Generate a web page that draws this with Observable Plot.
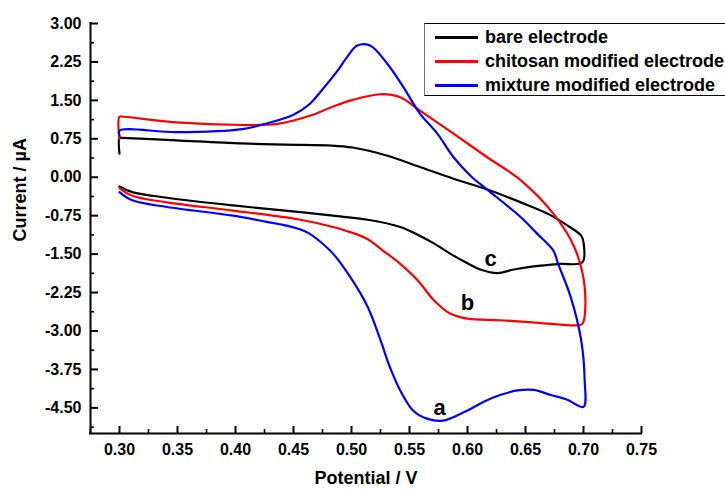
<!DOCTYPE html>
<html><head><meta charset="utf-8">
<script src="https://cdn.jsdelivr.net/npm/d3@7"></script>
<script src="https://cdn.jsdelivr.net/npm/@observablehq/plot@0.6"></script>
<style>
html,body{margin:0;padding:0;background:#fff;overflow:hidden;}
#wrap{position:relative;width:725px;height:491px;overflow:hidden;font-family:"Liberation Sans",Arial,sans-serif;}
#legend{position:absolute;left:424px;top:23px;width:330px;height:73px;border:1px solid #000;border-left-color:#777;background:#fff;box-sizing:border-box;}
.row{position:absolute;left:0;height:24px;display:flex;align-items:center;font-weight:bold;font-size:18px;white-space:nowrap;color:#000;}
.sw{display:inline-block;width:43px;height:3px;margin-left:10px;margin-right:7px;}
</style></head>
<body><div id="wrap"></div>
<script>
// ---- data (potential in V, current in µA) ----
const seriesNames = ["bare electrode", "chitosan modified electrode", "mixture modified electrode"];
const seriesColors = ["#000000", "#ff0000", "#0000ff"];

const bareV = [0.300,0.300,0.302,0.349,0.406,0.456,0.482,0.501,0.531,0.559,0.588,0.617,0.646,0.669,0.686,0.698,0.700,0.699,0.680,0.657,0.640,0.626,0.611,0.600,0.585,0.571,0.557,0.542,0.514,0.484,0.456,0.398,0.341,0.311,0.300];
const bareI = [0.46,0.77,0.77,0.72,0.66,0.63,0.62,0.58,0.42,0.20,-0.03,-0.24,-0.49,-0.71,-0.94,-1.14,-1.27,-1.66,-1.69,-1.74,-1.80,-1.87,-1.80,-1.68,-1.49,-1.29,-1.12,-0.97,-0.83,-0.75,-0.68,-0.55,-0.40,-0.29,-0.18];

const chitosanV = [0.300,0.300,0.304,0.349,0.406,0.436,0.464,0.482,0.501,0.525,0.542,0.559,0.588,0.617,0.646,0.674,0.692,0.701,0.699,0.694,0.656,0.628,0.600,0.585,0.571,0.557,0.542,0.527,0.514,0.499,0.484,0.456,0.398,0.341,0.311,0.300];
const chitosanI = [0.75,1.18,1.18,1.07,1.02,1.04,1.20,1.36,1.51,1.62,1.56,1.30,0.85,0.39,-0.06,-0.71,-1.36,-2.14,-2.86,-2.89,-2.83,-2.79,-2.76,-2.66,-2.40,-2.01,-1.69,-1.43,-1.21,-1.07,-0.97,-0.83,-0.65,-0.49,-0.36,-0.21];

const mixtureV = [0.300,0.300,0.349,0.406,0.427,0.450,0.464,0.473,0.488,0.496,0.505,0.516,0.531,0.545,0.559,0.574,0.588,0.603,0.617,0.646,0.660,0.674,0.678,0.689,0.698,0.701,0.700,0.686,0.672,0.657,0.643,0.628,0.614,0.600,0.579,0.565,0.553,0.542,0.533,0.525,0.514,0.499,0.484,0.470,0.463,0.456,0.441,0.427,0.398,0.341,0.311,0.300];
const mixtureI = [0.81,0.91,0.88,0.94,1.05,1.22,1.43,1.66,2.08,2.34,2.57,2.57,2.21,1.75,1.24,0.85,0.39,0.02,-0.24,-0.78,-1.10,-1.43,-1.68,-2.34,-3.18,-3.96,-4.48,-4.34,-4.25,-4.15,-4.16,-4.25,-4.38,-4.55,-4.75,-4.71,-4.55,-4.16,-3.70,-3.18,-2.53,-1.95,-1.49,-1.20,-1.09,-1.02,-0.93,-0.87,-0.75,-0.58,-0.45,-0.29];

const labelText = ["a", "b", "c"];
const labelV = [0.576, 0.600, 0.620];
const labelI = [-4.51, -2.46, -1.60];

const xDomain = [0.275, 0.75];
const yDomain = [-5, 3];
const xTicks = [0.30,0.35,0.40,0.45,0.50,0.55,0.60,0.65,0.70,0.75];
const xMinor = [0.275,0.325,0.375,0.425,0.475,0.525,0.575,0.625,0.675,0.725];
const yTicks = [3.00,2.25,1.50,0.75,0.00,-0.75,-1.50,-2.25,-3.00,-3.75,-4.50];
const yMinor = [2.625,1.875,1.125,0.375,-0.375,-1.125,-1.875,-2.625,-3.375,-4.125,-4.875];

// ---- build tables ----
const seriesV = [bareV, chitosanV, mixtureV];
const seriesI = [bareI, chitosanI, mixtureI];
const rows = seriesNames.map((name, s) => seriesV[s].map((v, i) => ({name, V: v, I: seriesI[s][i]})));
const labels = labelText.map((t, i) => ({t, V: labelV[i], I: labelI[i]}));

const W = 725, H = 491, mL = 90, mR = 84, mT = 23, mB = 58;
const fw = W - mL - mR, fh = H - mT - mB;
const font = '"Liberation Sans", Arial, sans-serif';

const chart = Plot.plot({
  width: W, height: H,
  marginLeft: mL, marginRight: mR, marginTop: mT, marginBottom: mB,
  style: {fontFamily: font, fontSize: "16px", fontWeight: "bold", color: "#000", background: "#fff"},
  x: {domain: xDomain, ticks: xTicks, tickSize: 0, tickPadding: 10, tickFormat: d => d.toFixed(2), label: null},
  y: {domain: yDomain, ticks: yTicks, tickSize: 0, tickPadding: 9, tickFormat: d => d.toFixed(2), label: null},
  marks: [
    Plot.tickX(xTicks, {x: d => d, insetTop: fh - 7, strokeWidth: 2, stroke: "#000"}),
    Plot.tickX(xMinor, {x: d => d, insetTop: fh - 4, strokeWidth: 1.6, stroke: "#000"}),
    Plot.tickY(yTicks, {y: d => d, insetRight: fw - 8, strokeWidth: 2, stroke: "#000"}),
    Plot.tickY(yMinor, {y: d => d, insetRight: fw - 4, strokeWidth: 1.6, stroke: "#000"}),
    ...rows.map((r, s) => Plot.line(r, {x: "V", y: "I", stroke: seriesColors[s], strokeWidth: 2.2, strokeLinejoin: "round", curve: "catmull-rom"})),
    Plot.ruleX([xDomain[0]], {strokeWidth: 2, stroke: "#000", strokeLinecap: "square"}),
    Plot.ruleY([yDomain[0]], {strokeWidth: 2, stroke: "#000", strokeLinecap: "square"}),
    Plot.text(labels, {x: "V", y: "I", text: "t", fontSize: 22, fontWeight: "bold", fill: "#000", fontFamily: font}),
    Plot.text(["Potential / V"], {text: d => d, frameAnchor: "bottom", dy: 50, fontSize: 18, fontWeight: "bold", fontFamily: font}),
    Plot.text(["Current / µA"], {text: d => d, frameAnchor: "left", rotate: -90, dx: -70, dy: 13, fontSize: 18, fontWeight: "bold", fontFamily: font})
  ]
});
const wrap = document.getElementById("wrap");
wrap.appendChild(chart);

// legend
const legend = document.createElement("div");
legend.id = "legend";
seriesNames.forEach((name, i) => {
  const row = document.createElement("div");
  row.className = "row";
  row.style.top = (1 + i * 24) + "px";
  const sw = document.createElement("span");
  sw.className = "sw";
  sw.style.background = seriesColors[i];
  row.appendChild(sw);
  row.appendChild(document.createTextNode(name));
  legend.appendChild(row);
});
wrap.appendChild(legend);
</script></body></html>
